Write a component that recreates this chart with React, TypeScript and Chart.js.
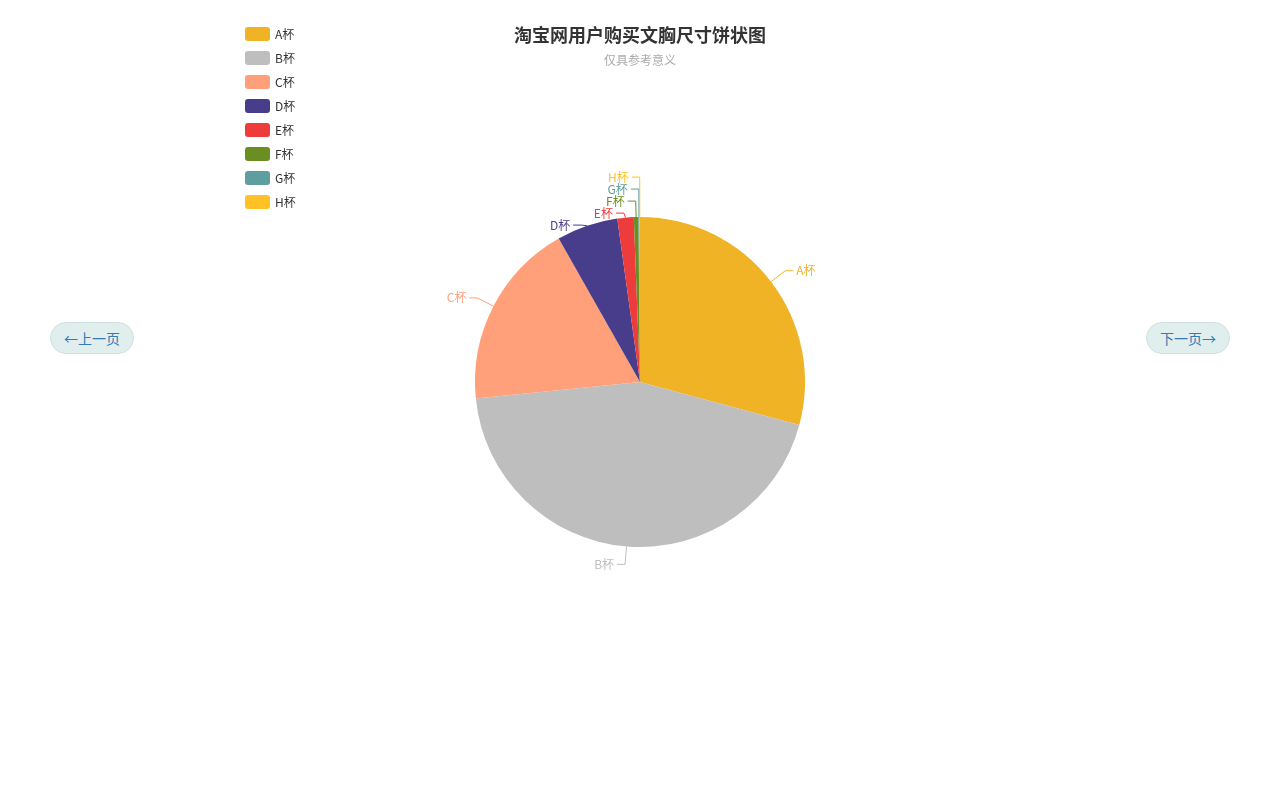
import React, { useEffect, useRef } from "react";
import { Chart, registerables, Plugin } from "chart.js";

Chart.register(...registerables);

const cups = ["A杯", "B杯", "C杯", "D杯", "E杯", "F杯", "G杯", "H杯"];
const shares = [29.2, 44.2, 18.4, 6.0, 1.6, 0.45, 0.1, 0.05];
const cupColors = [
    "#efb325",
    "#bebebe",
    "#ffa07a",
    "#483d8b",
    "#ee3b3b",
    "#6b8e23",
    "#5f9ea0",
    "#ffc125",
];

const titleText = "淘宝网用户购买文胸尺寸饼状图";
const subtitleText = "仅具参考意义";
const FONT = '"Noto Sans CJK SC", "Noto Sans", sans-serif';

type Lbl = { i: number; p0x: number; p0y: number; p1x: number; ny: number; y: number; right: boolean };

// spread overlapping labels apart vertically, like echarts does
function spread(items: Lbl[], gap: number) {
    items.sort((a, b) => a.ny - b.ny);
    let groups: { items: Lbl[]; center: number }[] = [];
    items.forEach((it) => {
        groups.push({ items: [it], center: it.ny });
        let merged = true;
        while (merged && groups.length > 1) {
            merged = false;
            const g = groups[groups.length - 1];
            const prev = groups[groups.length - 2];
            const prevBottom = prev.center + ((prev.items.length - 1) / 2) * gap;
            const gTop = g.center - ((g.items.length - 1) / 2) * gap;
            if (gTop - prevBottom < gap) {
                const all = prev.items.concat(g.items);
                const center = all.reduce((s, x) => s + x.ny, 0) / all.length;
                groups.splice(groups.length - 2, 2, { items: all, center });
                merged = true;
            }
        }
    });
    groups.forEach((g) => {
        g.items.forEach((it, k) => {
            it.y = g.center - ((g.items.length - 1) / 2) * gap + k * gap;
        });
    });
}

const decorPlugin: Plugin<"pie"> = {
    id: "decor",
    afterDatasetsDraw(chart) {
        const ctx = chart.ctx;
        const meta = chart.getDatasetMeta(0);
        const labels: Lbl[] = [];
        meta.data.forEach((el: any, i: number) => {
            const { x, y, startAngle, endAngle, outerRadius } = el.getProps(
                ["x", "y", "startAngle", "endAngle", "outerRadius"],
                true
            );
            const m = (startAngle + endAngle) / 2;
            const c = Math.cos(m);
            const s = Math.sin(m);
            const r1 = outerRadius + 18;
            labels.push({
                i,
                p0x: x + outerRadius * c,
                p0y: y + outerRadius * s,
                p1x: x + r1 * c,
                ny: y + r1 * s,
                y: y + r1 * s,
                right: c >= 0.0001,
            });
        });
        spread(labels.filter((l) => l.right), 12);
        spread(labels.filter((l) => !l.right), 12);

        ctx.save();
        ctx.font = `12px ${FONT}`;
        ctx.textBaseline = "middle";
        labels.forEach((l) => {
            const col = cupColors[l.i];
            const dir = l.right ? 1 : -1;
            const p2x = l.p1x + dir * 8;
            ctx.strokeStyle = col;
            ctx.lineWidth = 1;
            ctx.beginPath();
            ctx.moveTo(l.p0x, l.p0y);
            ctx.lineTo(l.p1x, l.y);
            ctx.lineTo(p2x, l.y);
            ctx.stroke();
            ctx.fillStyle = col;
            ctx.textAlign = l.right ? "left" : "right";
            ctx.fillText(cups[l.i], p2x + dir * 3, l.y);
        });

        // legend
        cups.forEach((name, i) => {
            const top = 27 + i * 24;
            ctx.fillStyle = cupColors[i];
            ctx.beginPath();
            ctx.roundRect(245, top, 25, 14, 3);
            ctx.fill();
            ctx.fillStyle = "#333";
            ctx.textAlign = "left";
            ctx.fillText(name, 275, top + 7);
        });

        // title
        ctx.textAlign = "center";
        ctx.fillStyle = "#333";
        ctx.font = `bold 18px ${FONT}`;
        ctx.fillText(titleText, 640, 35);
        ctx.fillStyle = "#aaa";
        ctx.font = `12px ${FONT}`;
        ctx.fillText(subtitleText, 640, 60);
        ctx.restore();
    },
};

const btnStyle: React.CSSProperties = {
    position: "absolute",
    top: 322,
    width: 84,
    height: 32,
    borderRadius: 16,
    background: "#e0eeee",
    border: "1px solid #cde2e0",
    color: "#337ab7",
    fontSize: 14,
    fontFamily: FONT,
    padding: 0,
    boxSizing: "border-box",
};

const App: React.FC = () => {
    const chartRef = useRef<HTMLCanvasElement | null>(null);

    useEffect(() => {
        if (!chartRef.current) return;
        const ctx = chartRef.current.getContext("2d");
        if (!ctx) return;

        const chart = new Chart(ctx, {
            type: "pie",
            data: {
                labels: cups,
                datasets: [
                    {
                        data: shares,
                        backgroundColor: cupColors,
                        borderWidth: 0,
                    },
                ],
            },
            options: {
                responsive: false,
                animation: false,
                layout: { padding: { left: 475, right: 475, top: 217, bottom: 253 } },
                plugins: {
                    legend: { display: false },
                    title: { display: false },
                    tooltip: { enabled: false },
                },
            },
            plugins: [decorPlugin],
        });

        return () => {
            chart.destroy();
        };
    }, []);

    return (
        <div style={{ position: "fixed", left: 0, top: 0, width: 1280, height: 800, background: "#fff" }}>
            <canvas ref={chartRef} width={1280} height={800} style={{ display: "block" }}></canvas>
            <button style={{ ...btnStyle, left: 50 }}>←上一页</button>
            <button style={{ ...btnStyle, left: 1146 }}>下一页→</button>
        </div>
    );
};

export default App;
